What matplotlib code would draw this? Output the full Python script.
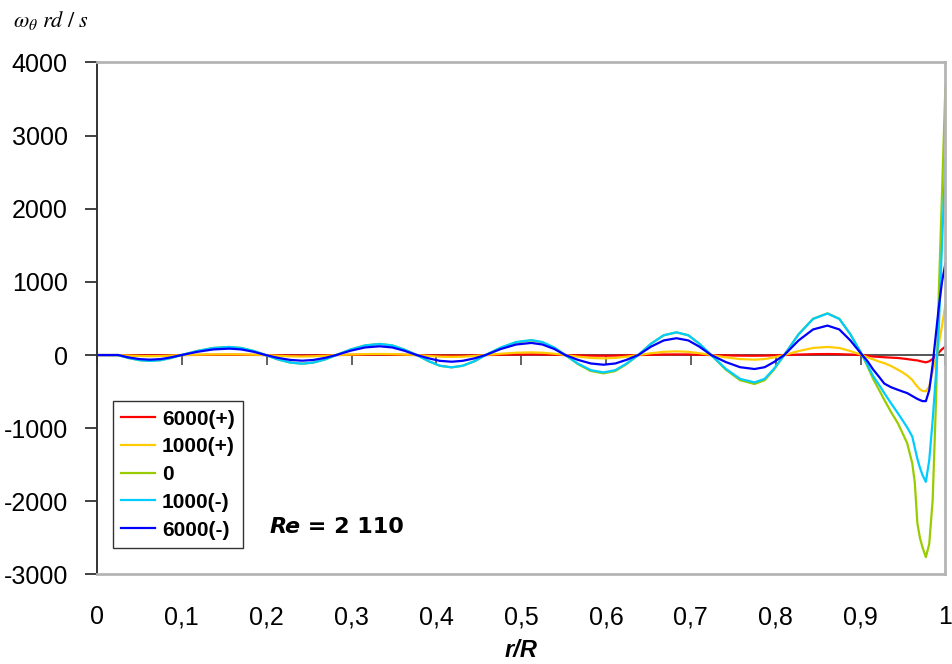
import matplotlib
matplotlib.use('Agg')
import matplotlib.pyplot as plt
import matplotlib.ticker as ticker


# radial position r/R and vorticity w_theta (rd/s) for each rotation case
r = [0, 0.012,
     0.025, 0.037, 0.050, 0.062, 0.075, 0.087,
     0.0995, 0.118, 0.137, 0.156, 0.170, 0.185,
     0.199, 0.213, 0.228, 0.242, 0.255, 0.269,
     0.282, 0.299, 0.316, 0.333, 0.348, 0.362,
     0.377, 0.391, 0.404, 0.418, 0.431, 0.445,
     0.458, 0.476, 0.494, 0.512, 0.525, 0.539,
     0.552, 0.567, 0.582, 0.597, 0.611, 0.624,
     0.638, 0.653, 0.668, 0.683, 0.697, 0.710,
     0.724, 0.741, 0.758, 0.775, 0.787, 0.798,
     0.810, 0.827, 0.844, 0.861, 0.875, 0.888,
     0.902, 0.908, 0.915, 0.922, 0.928, 0.936, 0.944, 0.950, 0.955, 0.961,
     0.964, 0.967, 0.970, 0.973, 0.977, 0.981, 0.985, 0.989, 0.992, 0.996, 1.0]

w_6000p = [0, 0,
           0, -2, -4, -5, -4, -2,
           0, 2, 4, 5, 4, 2,
           0, -3, -5, -6, -5, -3,
           0, 3, 5, 6, 5, 3,
           0, -4, -7, -8, -7, -4,
           0, 4, 8, 9, 8, 4,
           0, -4, -8, -9, -8, -4,
           0, 4, 8, 9, 8, 4,
           0, -4, -8, -9, -8, -4,
           0, 7, 12, 14, 12, 7,
           0, -10, -20, -25, -30, -35, -40, -48, -55, -65,
           -70, -73, -82, -90, -100, -85, -53, -10, 29, 80, 115]

w_1000p = [0, 0,
           0, -7, -13, -15, -13, -7,
           0, 5, 9, 10, 9, 5,
           0, -10, -17, -20, -17, -10,
           0, 7, 13, 15, 13, 7,
           0, -12, -22, -25, -22, -12,
           0, 18, 32, 37, 32, 18,
           0, -22, -39, -45, -39, -22,
           0, 25, 44, 51, 44, 25,
           0, -31, -55, -63, -55, -31,
           0, 55, 97, 111, 97, 55,
           0, -30, -60, -90, -110, -150, -200, -240, -280, -340,
           -390, -430, -470, -490, -495, -430, -230, -27, 130, 400, 690]

w_0 = [0, 0,
       0, -40, -70, -80, -70, -40,
       0, 55, 97, 111, 97, 55,
       0, -59, -103, -118, -103, -59,
       0, 76, 132, 152, 132, 76,
       0, -84, -146, -168, -146, -84,
       0, 100, 174, 200, 174, 100,
       0, -125, -218, -250, -218, -125,
       0, 155, 270, 310, 270, 155,
       0, -198, -344, -395, -344, -198,
       0, 285, 496, 570, 496, 285,
       0, -150, -330, -480, -612, -780, -932, -1080, -1206, -1481,
       -1750, -2300, -2500, -2626, -2763, -2580, -1985, -612, 760, 2200, 3660]

w_1000m = [0, 0,
           0, -40, -70, -80, -70, -40,
           0, 55, 97, 111, 97, 55,
           0, -59, -103, -118, -103, -59,
           0, 76, 132, 152, 132, 76,
           0, -84, -146, -168, -146, -84,
           0, 103, 178, 205, 178, 103,
           0, -118, -206, -237, -206, -118,
           0, 155, 271, 311, 271, 155,
           0, -187, -325, -374, -325, -187,
           0, 284, 494, 568, 494, 284,
           0, -130, -290, -410, -520, -660, -795, -900, -990, -1115,
           -1270, -1420, -1540, -1640, -1733, -1435, -890, -250, 307, 1500, 2680]

w_6000m = [0, 0,
           0, -32, -55, -63, -55, -32,
           0, 44, 77, 88, 77, 44,
           0, -38, -67, -77, -67, -38,
           0, 60, 104, 120, 104, 60,
           0, -45, -79, -91, -79, -45,
           0, 83, 144, 166, 144, 83,
           0, -66, -115, -132, -115, -66,
           0, 115, 200, 230, 200, 115,
           0, -95, -166, -191, -166, -95,
           0, 200, 350, 403, 350, 200,
           0, -80, -200, -300, -390, -440, -475, -500, -520, -560,
           -580, -600, -615, -630, -630, -480, -130, 303, 630, 1000, 1250]

labels = ['6000(+)', '1000(+)', '0', '1000(-)', '6000(-)']
colors = ['#FF0000', '#FFCC00', '#99CC00', '#00CCFF', '#0000FF']
series = [w_6000p, w_1000p, w_0, w_1000m, w_6000m]

x_ticks = [0, 0.1, 0.2, 0.3, 0.4, 0.5, 0.6, 0.7, 0.8, 0.9, 1.0]
x_ticklabels = ['0', '0,1', '0,2', '0,3', '0,4', '0,5', '0,6', '0,7', '0,8', '0,9', '1']
y_ticks = [-3000, -2000, -1000, 0, 1000, 2000, 3000, 4000]

plt.rcParams['font.family'] = ['Liberation Sans', 'DejaVu Sans']
plt.rcParams['mathtext.fontset'] = 'stix'

fig = plt.figure(figsize=(9.53, 6.64), dpi=100)
ax = fig.add_axes([0.1018, 0.1348, 0.8902, 0.7711])

for vals, lab, col in zip(series, labels, colors):
    ax.plot(r, vals, color=col, lw=1.6, label=lab, solid_joinstyle='round')

ax.set_xlim(0, 1)
ax.set_ylim(-3000, 4000)

# category labels sit below the plot, tick marks live on the zero line
ax.set_xticks(x_ticks)
ax.set_xticklabels(x_ticklabels)
ax.tick_params(axis='x', length=0, pad=22, labelsize=18)
ax.set_yticks(y_ticks)
ax.yaxis.set_major_formatter(ticker.FuncFormatter(lambda v, p: '%d' % v))
ax.tick_params(axis='y', direction='out', length=9, width=1.3, color='#333333',
               pad=12, labelsize=18)

for side in ['top', 'right', 'bottom']:
    ax.spines[side].set_color('#B4B4B4')
    ax.spines[side].set_linewidth(2)
ax.spines['left'].set_color('#333333')
ax.spines['left'].set_linewidth(1.4)

ax.axhline(0, color='#555555', lw=1.4, zorder=1.5)
zero_axis = ax.secondary_xaxis(0, transform=ax.transData)
zero_axis.set_xticks(x_ticks)
zero_axis.set_xticklabels([])
zero_axis.tick_params(direction='out', length=7, width=1.3, color='#555555')
zero_axis.spines['bottom'].set_visible(False)

leg = ax.legend(loc='lower left', bbox_to_anchor=(0.0188, 0.052), borderaxespad=0,
                fancybox=False, framealpha=1, edgecolor='#333333',
                prop={'weight': 'bold', 'size': 15}, handlelength=1.6,
                handletextpad=0.35, labelspacing=0.42, borderpad=0.4)
leg.get_frame().set_linewidth(1.0)

re_txt = ax.text(0.203, 0.073, 'Re', transform=ax.transAxes, fontsize=16,
                 fontweight='bold', fontstyle='italic', family='DejaVu Sans',
                 va='bottom')
ax.annotate(' = 2 110', xy=(1, 0), xycoords=re_txt, fontsize=16,
            fontweight='bold', family='DejaVu Sans', va='bottom')

ax.set_xlabel('r/R', fontsize=17, fontweight='bold', fontstyle='italic', labelpad=7)

fig.text(13 / 953, 1 - 27 / 664, r'$\omega_{\theta}\ \mathit{rd\ /\ s}$', fontsize=16)

fig.savefig('out.png', dpi=100)
